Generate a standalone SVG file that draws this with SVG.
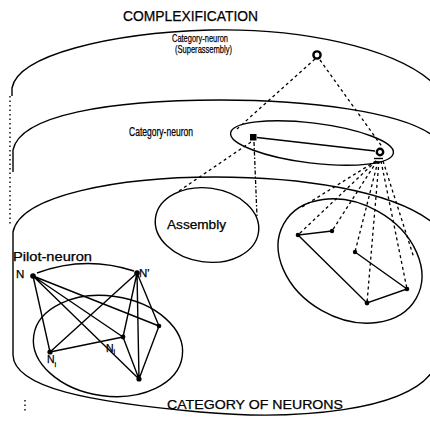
<svg xmlns="http://www.w3.org/2000/svg" width="430" height="425" viewBox="0 0 430 425">
<style>
.s{fill:none;stroke:#000;stroke-width:1.4}
.d{fill:none;stroke:#000;stroke-width:1.3;stroke-dasharray:3 3}
.dd{fill:none;stroke:#000;stroke-width:1.3;stroke-dasharray:4 2 1.5 2}
.dt{fill:none;stroke:#000;stroke-width:1.4;stroke-dasharray:1.5 3}
.dot{fill:#000}
.ring{fill:#fff;stroke:#000;stroke-width:2.4}
text{font-family:"Liberation Sans",Arial,sans-serif;fill:#000;stroke:#000;stroke-width:0.25}
</style>
<rect width="430" height="425" fill="#fff"/>
<text x="123" y="21" font-size="14" textLength="135" lengthAdjust="spacingAndGlyphs">COMPLEXIFICATION</text>
<g id="layers">
<path class="s" d="M12 96 L12 88 C18 55 110 33 210 30 C300 28 392 47 432 82"/>
<path class="s" d="M13 172 L13 150 C20 115 110 100 220 100 C310 100 400 112 432 135"/>
<path class="s" d="M13 355 L13 232 C20 195 120 177 215 177 C300 177 390 190 432 222"/>
<path class="s" d="M13 355 C14 388 90 402 200 412 C300 421 405 410 432 372"/>
<path class="dt" d="M10 96 L10 226"/>
<path class="dt" d="M25 400 L25 412"/>
</g>
<g id="superassembly">
<circle class="ring" cx="317" cy="55" r="3.6"/>
<text x="172" y="42" font-size="11.5" textLength="56" lengthAdjust="spacingAndGlyphs">Category-neuron</text>
<text x="175" y="53" font-size="11.5" textLength="57" lengthAdjust="spacingAndGlyphs">(Superassembly)</text>
</g>
<g id="category-neuron">
<ellipse class="s" cx="312" cy="143" rx="82" ry="20" transform="rotate(7 312 143)"/>
<rect x="250" y="134" width="6.5" height="6.5" class="dot"/>
<path class="s" d="M257 137.5 L375 151"/>
<circle class="ring" cx="380" cy="152" r="3.2"/>
<path class="s" d="M374 158.5 L383 158.5" stroke-width="2"/>
<text x="129" y="136" font-size="12" textLength="64" lengthAdjust="spacingAndGlyphs">Category-neuron</text>
</g>
<g id="assembly">
<ellipse class="s" cx="207" cy="225" rx="52" ry="37" transform="rotate(8 207 225)"/>
<text x="167" y="229" font-size="12" textLength="59" lengthAdjust="spacingAndGlyphs">Assembly</text>
</g>
<g id="right-pattern">
<ellipse class="s" cx="350" cy="261" rx="76" ry="57" transform="rotate(29.5 350 261)"/>
<path class="s" d="M332 231 L298 235 L367 303 L407 289 L355 252"/>
<circle class="dot" cx="298" cy="235" r="2.3"/>
<circle class="dot" cx="332" cy="231" r="2.2"/>
<circle class="dot" cx="355" cy="252" r="2.2"/>
<circle class="dot" cx="367" cy="303" r="2.4"/>
<circle class="dot" cx="407" cy="289" r="2.3"/>
</g>
<g id="pilot-pattern">
<ellipse class="s" cx="108" cy="346" rx="75" ry="50" transform="rotate(8 108 346)"/>
<path class="s" d="M37 273 Q85 255 134 271"/>
<path class="s" d="M33 276 L50 352 M33 276 L123 337 M33 276 L139 379 M33 276 L159 326 M137 273 L50 352 M137 273 L123 337 M137 273 L139 379 M137 273 L159 326 M50 352 L123 337 M123 337 L139 379 M159 326 L139 379"/>
<circle class="dot" cx="33" cy="276" r="2.8"/>
<circle class="dot" cx="137" cy="273" r="2.8"/>
<circle class="dot" cx="159" cy="326" r="2.3"/>
<circle class="dot" cx="123" cy="337" r="2.4"/>
<circle class="dot" cx="50" cy="352" r="2.6"/>
<circle class="dot" cx="139" cy="379" r="2.6"/>
<text x="13" y="261" font-size="12" textLength="79" lengthAdjust="spacingAndGlyphs">Pilot-neuron</text>
<text x="16" y="278" font-size="11.5">N</text>
<text x="139" y="277" font-size="11.5">N'</text>
<text x="47" y="363" font-size="10.5">N<tspan font-size="7.5" dy="4">i</tspan></text>
<text x="106" y="352" font-size="10.5">N<tspan font-size="7.5" dy="2">i</tspan></text>
</g>
<g id="connectors">
<path class="d" d="M315 59 L237 129"/>
<path class="d" d="M320 60 L383 148"/>
<path class="d" d="M251 142 L179 191"/>
<path class="dd" d="M254 142 L257 217"/>
<path class="d" d="M376 161 L302 207"/>
<path class="d" d="M376 161 L298 235"/>
<path class="d" d="M377 161 L332 231"/>
<path class="d" d="M378 161 L355 252"/>
<path class="d" d="M379 161 L367 303"/>
<path class="d" d="M381 161 L407 289"/>
<path class="d" d="M383 161 L414 258"/>
</g>
<text x="167" y="409" font-size="13" textLength="176" lengthAdjust="spacingAndGlyphs">CATEGORY OF NEURONS</text>
</svg>
